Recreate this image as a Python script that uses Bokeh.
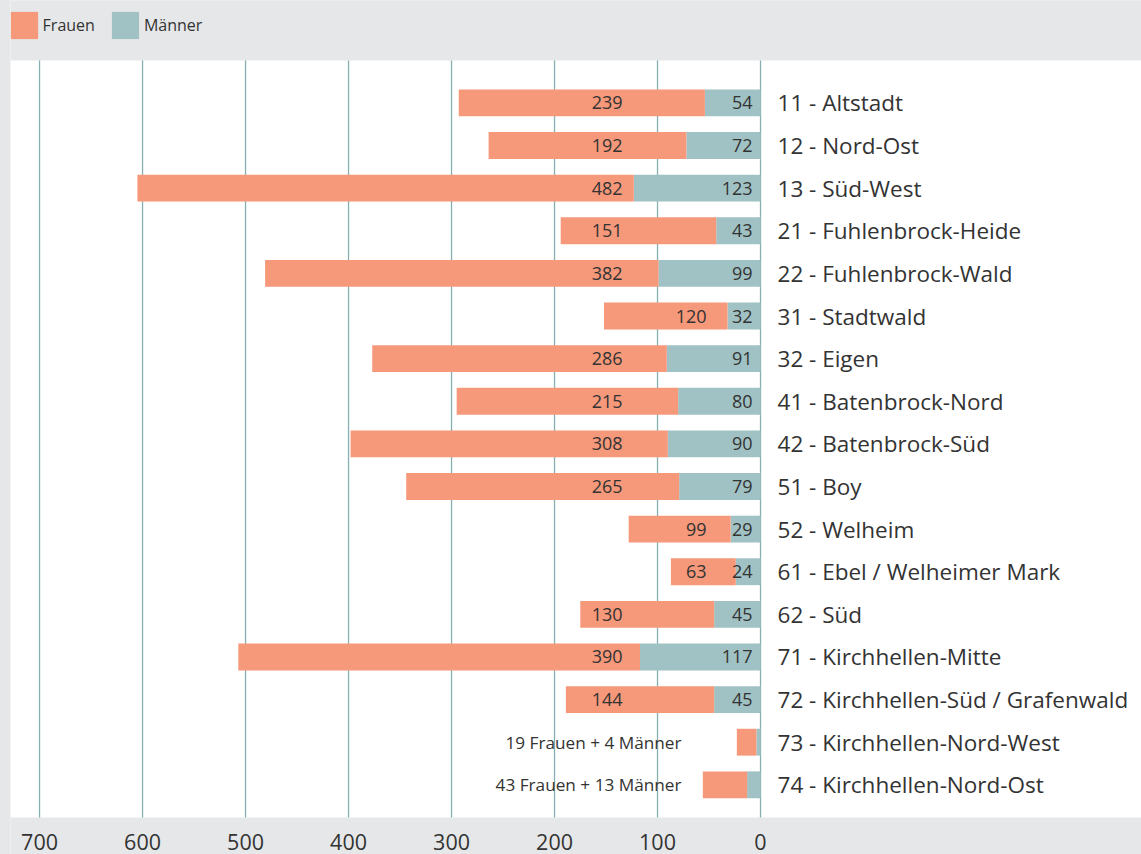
from bokeh.plotting import figure
from bokeh.models import Range1d, Legend, LegendItem, ColumnDataSource, BoxAnnotation
from bokeh.core.properties import value
from bokeh.embed import file_html
from bokeh.resources import INLINE

districts = ["11 - Altstadt", "12 - Nord-Ost", "13 - Süd-West", "21 - Fuhlenbrock-Heide",
             "22 - Fuhlenbrock-Wald", "31 - Stadtwald", "32 - Eigen", "41 - Batenbrock-Nord",
             "42 - Batenbrock-Süd", "51 - Boy", "52 - Welheim", "61 - Ebel / Welheimer Mark",
             "62 - Süd", "71 - Kirchhellen-Mitte", "72 - Kirchhellen-Süd / Grafenwald",
             "73 - Kirchhellen-Nord-West", "74 - Kirchhellen-Nord-Ost"]
frauen = [239, 192, 482, 151, 382, 120, 286, 215, 308, 265, 99, 63, 130, 390, 144, 19, 43]
maenner = [54, 72, 123, 43, 99, 32, 91, 80, 90, 79, 29, 24, 45, 117, 45, 4, 13]
x_ticks = [0, 100, 200, 300, 400, 500, 600, 700]

FONT = "Open Sans"
BG = "#e6e7e8"
C_F = "#f6987a"
C_M = "#a0c2c4"
TXT = "#333333"

n = len(districts)
rows = list(range(n))
totals = [f + m for f, m in zip(frauen, maenner)]

src = ColumnDataSource(dict(y=rows, m=maenner, t=totals, name=districts))

# vertical extent in row units
Y_LOW, Y_HIGH = 17.635, -2.403
WHITE_TOP = -0.995
WHITE_BOTTOM = 16.767
p = figure(width=1141, height=854, output_backend="svg", toolbar_location=None,
           x_range=Range1d(728.2, -369.9), y_range=Range1d(Y_LOW, Y_HIGH),
           min_border_left=10, min_border_right=0, min_border_top=0, min_border_bottom=0)
p.background_fill_color = "white"
p.border_fill_color = BG
p.outline_line_color = None
p.xgrid.visible = False
p.ygrid.visible = False
p.xaxis.visible = False
p.yaxis.visible = False

# grey header band (legend) and footer band (tick labels)
p.add_layout(BoxAnnotation(bottom=WHITE_TOP, top=Y_HIGH - 1, fill_color=BG, fill_alpha=1.0,
                           line_color=None, level="image"))
p.add_layout(BoxAnnotation(top=WHITE_BOTTOM, bottom=Y_LOW + 1, fill_color=BG, fill_alpha=1.0,
                           line_color=None, level="image"))

# vertical grid lines over the white area only
p.segment(x0=x_ticks, y0=WHITE_TOP, x1=x_ticks, y1=WHITE_BOTTOM, line_color="#86afb2",
          line_width=1.3, level="underlay")

rm = p.hbar(y="y", left=0, right="m", height=0.63, source=src, fill_color=C_M, line_color=None)
rf = p.hbar(y="y", left="m", right="t", height=0.63, source=src, fill_color=C_F, line_color=None)

# category labels
p.text(x=0, y="y", text="name", source=src, x_offset=17, text_align="left", text_baseline="middle",
       text_font=value(FONT), text_font_size="22.5px", text_color=TXT)

# value labels (rows with large enough bars)
big = [i for i in rows if totals[i] >= 60]
fy_hi = [i for i in big if totals[i] > 160]
fy_lo = [i for i in big if totals[i] <= 160]
p.text(x=0, y=fy_hi, text=[str(frauen[i]) for i in fy_hi], x_offset=-138, text_align="right",
       text_baseline="middle", text_font=value(FONT), text_font_size="18px", text_color=TXT)
p.text(x=0, y=fy_lo, text=[str(frauen[i]) for i in fy_lo], x_offset=-54, text_align="right",
       text_baseline="middle", text_font=value(FONT), text_font_size="18px", text_color=TXT)
p.text(x=0, y=big, text=[str(maenner[i]) for i in big], x_offset=-8, text_align="right",
       text_baseline="middle", text_font=value(FONT), text_font_size="18px", text_color=TXT)

small = [i for i in rows if totals[i] < 60]
p.text(x=0, y=small, text=[f"{frauen[i]} Frauen + {maenner[i]} Männer" for i in small],
       x_offset=-79, text_align="right", text_baseline="middle",
       text_font=value(FONT), text_font_size="17.2px", text_color=TXT)

# x tick labels in the footer band
p.text(x=x_ticks, y=WHITE_BOTTOM, text=[str(t) for t in x_ticks], y_offset=32,
       text_align="center", text_baseline="bottom",
       text_font=value(FONT), text_font_size="21.5px", text_color=TXT)

legend = Legend(items=[LegendItem(label="Frauen", renderers=[rf]),
                       LegendItem(label="Männer", renderers=[rm])],
                orientation="horizontal", location=(-3.4, 811.6),
                glyph_width=34, glyph_height=34, label_standoff=2, spacing=13,
                padding=0, margin=0, background_fill_color=BG, background_fill_alpha=0,
                border_line_color=None,
                label_text_font=FONT, label_text_font_size="16px", label_text_color=TXT)
p.add_layout(legend)

html = file_html(p, INLINE)
html = html.replace("</head>", "<style>html,body{margin:0;padding:0;background:#e6e7e8;overflow:hidden}</style></head>", 1)
open("out.html", "w").write(html)
